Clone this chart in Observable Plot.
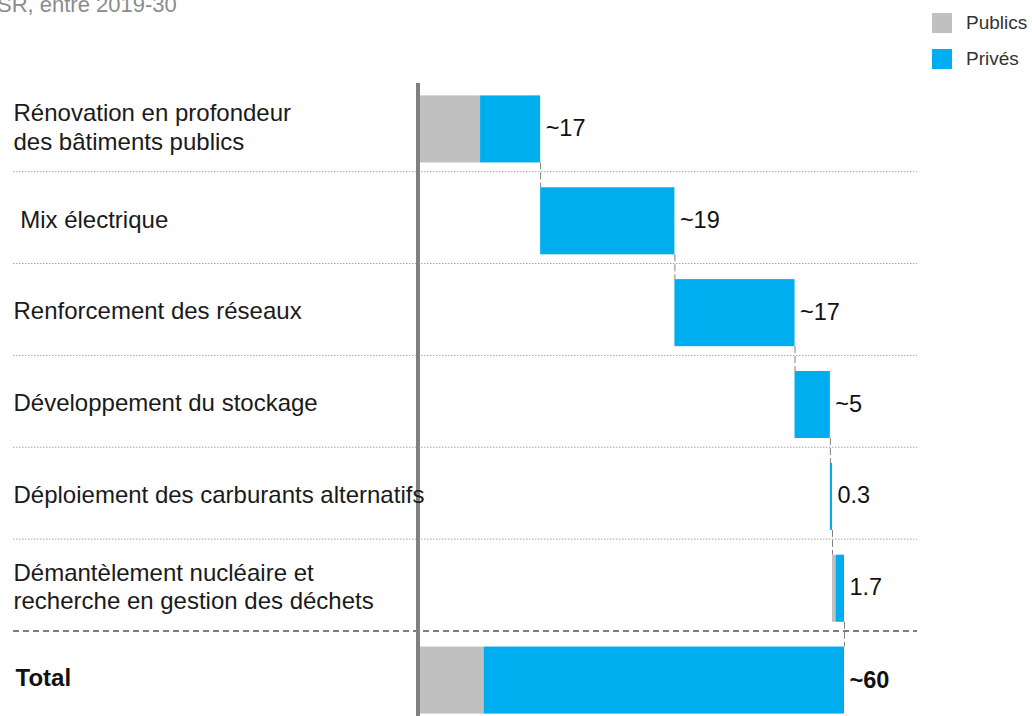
<!DOCTYPE html>
<html><head><meta charset="utf-8">
<script src="https://cdn.jsdelivr.net/npm/d3@7"></script>
<script src="https://cdn.jsdelivr.net/npm/@observablehq/plot@0.6"></script>
<style>
body{margin:0;background:#fff;font-family:"Liberation Sans",Arial,sans-serif;}
#wrap{position:relative;width:1032px;height:716px;overflow:hidden;background:#fff;}
#chart{position:absolute;left:0;top:0;}
#subtitle{position:absolute;left:-3px;top:-6px;font-size:22px;line-height:22px;color:#8c8c8c;white-space:nowrap;}
#legend{position:absolute;left:932px;top:13px;}
.item{display:flex;align-items:center;height:20px;margin-bottom:16px;font-size:19px;color:#333;}
.sw{width:20px;height:20px;margin-right:14px;}
</style></head>
<body><div id="wrap">
<div id="chart"></div>
<div id="subtitle">SR, entre 2019-30</div>
<div id="legend"></div>
</div>
<script>
const categories = [
  "Rénovation en profondeur\ndes bâtiments publics",
  "\u00a0Mix électrique",
  "Renforcement des réseaux",
  "Développement du stockage",
  "Déploiement des carburants alternatifs",
  "Démantèlement nucléaire et\nrecherche en gestion des déchets",
  "Total"
];
const publics = [8.5, 0, 0, 0, 0, 0.5, 9];
const prives = [8.5, 19, 17, 5, 0.3, 1.2, 51];
const valueLabels = ["~17", "~19", "~17", "~5", "0.3", "1.7", "~60"];
const seriesNames = ["Publics", "Privés"];
const seriesColors = ["#c0c0c0", "#00aeef"];

const last = categories.length - 1;
let cum = 0;
const rows = categories.map((cat, i) => {
  const start = i === last ? 0 : cum;
  const end = start + publics[i] + prives[i];
  if (i !== last) cum = end;
  return {i, cat, start, pubEnd: start + publics[i], end, label: valueLabels[i]};
});
const segments = [];
rows.forEach(r => {
  if (r.pubEnd > r.start) segments.push({i: r.i, x1: r.start, x2: r.pubEnd, series: seriesNames[0]});
  if (r.end > r.pubEnd) segments.push({i: r.i, x1: r.pubEnd, x2: r.end, series: seriesNames[1]});
});
const half = 0.365;
const connectors = rows.slice(0, last).map(r => ({x: r.end, y1: r.i + half, y2: r.i + 1 - half}));
const divOff = 0.46;
const dotted = rows.slice(0, last - 1).map(r => r.i + divOff);
const dashed = [rows[last - 1].i + divOff];
const font = "Liberation Sans, Arial, sans-serif";

const chart = Plot.plot({
  width: 1032, height: 726,
  marginLeft: 420, marginRight: 188, marginTop: 83, marginBottom: 0,
  x: {domain: [0, 60], axis: null},
  y: {domain: [last + 0.5, -0.5], axis: null},
  color: {domain: seriesNames, range: seriesColors},
  style: {fontFamily: font, background: "white", overflow: "visible"},
  marks: [
    Plot.ruleY(dotted, {y: d => d, stroke: "#a6a6a6", strokeWidth: 1, strokeDasharray: "1.5,1.5", insetLeft: -407, insetRight: -73}),
    Plot.ruleY(dashed, {y: d => d, stroke: "#7f7f7f", strokeWidth: 2, strokeDasharray: "6,4", insetLeft: -407, insetRight: -73}),
    Plot.ruleX(connectors, {x: "x", y1: "y1", y2: "y2", stroke: "#808080", strokeWidth: 1, strokeDasharray: "7,3"}),
    Plot.rect(segments, {x1: "x1", x2: "x2", y1: d => d.i - half, y2: d => d.i + half, fill: "series"}),
    Plot.ruleX([0], {stroke: "#808080", strokeWidth: 4, dx: -2.5}),
    Plot.text(rows.filter(r => r.i !== last), {x: "end", y: "i", text: "label", textAnchor: "start", dx: 5, dy: -1, fontSize: 23.5, fill: "#111"}),
    Plot.text(rows.filter(r => r.i === last), {x: "end", y: "i", text: "label", textAnchor: "start", dx: 5, fontSize: 23.5, fontWeight: "bold", fill: "#111"}),
    Plot.text(rows.filter(r => r.i !== last), {y: "i", text: "cat", frameAnchor: "left", textAnchor: "start", dx: -407, dy: -3, lineHeight: 1.2, fontSize: 24, fill: "#1a1a1a"}),
    Plot.text(rows.filter(r => r.i === last), {y: "i", text: "cat", frameAnchor: "left", textAnchor: "start", dx: -405, dy: -2, fontSize: 24, fontWeight: "bold", fill: "#111"})
  ]
});
document.getElementById("chart").appendChild(chart);

const legend = document.getElementById("legend");
seriesNames.forEach((s, k) => {
  const it = document.createElement("div");
  it.className = "item";
  const sw = document.createElement("div");
  sw.className = "sw";
  sw.style.background = seriesColors[k];
  const t = document.createElement("span");
  t.textContent = s;
  it.appendChild(sw); it.appendChild(t);
  legend.appendChild(it);
});
</script>
</body></html>
